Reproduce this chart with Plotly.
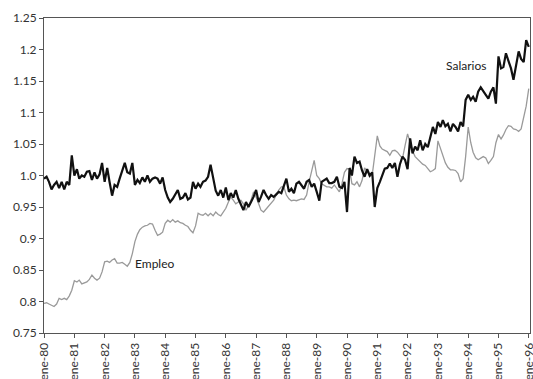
import pandas as pd
import plotly.graph_objects as go

fechas = pd.date_range("1980-01-01", periods=193, freq="MS")

salarios = [
    0.995, 0.998, 0.99, 0.978, 0.985, 0.99, 0.98, 0.99, 0.978, 0.99, 0.985, 1.032,
    1.0, 1.01, 0.995, 1.0, 0.998, 1.006, 1.007, 0.993, 1.005, 0.995, 1.002, 1.02,
    0.99, 1.012, 0.99, 0.968, 0.985, 0.982, 0.995, 1.008, 1.02, 1.005, 1.003, 1.02,
    0.985, 0.993, 0.988, 0.997, 0.99, 1.0, 0.99, 0.995, 0.997, 0.995, 0.987, 0.997,
    0.977, 0.965, 0.958, 0.963, 0.969, 0.977, 0.963, 0.965, 0.972, 0.962, 0.965, 0.99,
    0.979, 0.987, 0.982, 0.99, 0.992, 0.998, 1.017, 0.996, 0.976, 0.968, 0.977, 0.965,
    0.981, 0.961, 0.972, 0.965, 0.977, 0.963, 0.955, 0.945, 0.958, 0.95, 0.958, 0.966,
    0.977, 0.958, 0.966, 0.977, 0.969, 0.963, 0.969, 0.966, 0.97, 0.974, 0.972, 0.982,
    0.995, 0.974, 0.979, 0.972, 0.987, 0.99, 0.985, 0.979, 0.99, 0.993, 0.982, 0.987,
    0.974, 0.96, 0.99, 0.992, 0.995, 0.988, 0.988, 0.99, 0.998, 0.982, 0.98, 0.99,
    0.942, 1.012, 1.0, 1.03, 1.02, 1.022, 1.008, 0.998, 1.01, 1.0, 1.005, 0.95,
    0.98, 0.99, 1.0, 1.011, 1.012, 1.019, 1.012, 1.02, 0.998, 1.018, 1.03, 1.025,
    1.01, 1.059, 1.035, 1.046, 1.04, 1.056, 1.04, 1.05, 1.045, 1.062, 1.077, 1.066,
    1.085, 1.077, 1.088, 1.078, 1.082, 1.07, 1.082, 1.077, 1.07, 1.085, 1.078, 1.12,
    1.128, 1.12, 1.125, 1.117, 1.133, 1.14, 1.133, 1.128, 1.122, 1.133, 1.14, 1.114,
    1.189, 1.17, 1.172, 1.194, 1.182, 1.17, 1.152, 1.175, 1.197, 1.185, 1.18, 1.215,
    1.204,
]

empleo = [
    0.797, 0.798, 0.796, 0.794, 0.792, 0.796, 0.805, 0.803, 0.805, 0.803, 0.809, 0.818,
    0.833, 0.831, 0.834, 0.828, 0.829, 0.831, 0.835, 0.842, 0.837, 0.834, 0.837, 0.847,
    0.863, 0.864, 0.862, 0.866, 0.868, 0.861, 0.861, 0.862, 0.859, 0.856, 0.862, 0.876,
    0.895, 0.907, 0.914, 0.918, 0.92, 0.921, 0.924, 0.923, 0.913, 0.905, 0.907, 0.91,
    0.924, 0.929, 0.926, 0.93, 0.926, 0.928, 0.925, 0.924, 0.921, 0.919, 0.913, 0.909,
    0.92, 0.94, 0.938, 0.937, 0.94, 0.936, 0.94, 0.936, 0.942, 0.938, 0.936, 0.942,
    0.948, 0.958, 0.966, 0.961, 0.955, 0.958, 0.961, 0.955, 0.945, 0.952, 0.961, 0.974,
    0.966, 0.955, 0.945, 0.942, 0.947, 0.952, 0.956, 0.961, 0.969, 0.977, 0.982, 0.982,
    0.969, 0.963, 0.96, 0.961, 0.96, 0.961, 0.963, 0.962, 0.969, 0.99, 1.008, 1.024,
    1.0, 0.995, 0.987, 0.985, 0.982, 0.982, 0.98, 0.985, 0.98, 0.974, 0.987, 1.005,
    1.011, 1.01, 0.987, 0.985, 0.99, 0.982, 0.992, 1.012, 1.007, 0.998, 1.001, 1.033,
    1.063, 1.047, 1.042, 1.04, 1.038, 1.032, 1.039, 1.04, 1.037, 1.032, 1.027, 1.047,
    1.066, 1.052, 1.039, 1.03, 1.026, 1.021, 1.018, 1.016, 1.01, 1.006, 1.008, 1.011,
    1.055, 1.042, 1.032, 1.02, 1.013, 1.009, 1.009, 1.008, 1.003, 0.99, 0.995, 1.03,
    1.077, 1.052, 1.037, 1.028, 1.025, 1.028, 1.03, 1.028, 1.019, 1.024, 1.03, 1.052,
    1.065, 1.058, 1.064, 1.073, 1.079, 1.078, 1.074, 1.073, 1.07, 1.074, 1.09, 1.11,
    1.138,
]

etiquetas_x = ["ene-80", "ene-81", "ene-82", "ene-83", "ene-84", "ene-85", "ene-86", "ene-87",
               "ene-88", "ene-89", "ene-90", "ene-91", "ene-92", "ene-93", "ene-94", "ene-95", "ene-96"]
valores_y = [0.75, 0.8, 0.85, 0.9, 0.95, 1.0, 1.05, 1.1, 1.15, 1.2, 1.25]
etiquetas_y = ["0.75", "0.8", "0.85", "0.9", "0.95", "1.0", "1.05", "1.1", "1.15", "1.2", "1.25"]

FONT = "Lato"
AXC = "#333333"

fig = go.Figure()
fig.add_trace(go.Scatter(x=fechas, y=empleo, mode="lines", name="Empleo",
                         line=dict(color="#9a9a9a", width=1.3)))
fig.add_trace(go.Scatter(x=fechas, y=salarios, mode="lines", name="Salarios",
                         line=dict(color="#111111", width=2.2)))

fig.add_annotation(x=fechas[167], y=1.175, text="Salarios", showarrow=False,
                   font=dict(family=FONT, size=12, color="#222222"))
fig.add_annotation(x=fechas[44], y=0.861, text="Empleo", showarrow=False,
                   font=dict(family=FONT, size=12, color="#222222"))

fig.update_layout(
    width=533, height=379,
    margin=dict(l=44, r=3, t=18, b=46, autoexpand=False),
    paper_bgcolor="white", plot_bgcolor="white",
    showlegend=False,
    font=dict(family=FONT, size=12, color=AXC),
)
fig.update_xaxes(
    range=[pd.Timestamp("1980-01-01"), pd.Timestamp("1996-01-16")],
    tickvals=list(fechas[::12]), ticktext=etiquetas_x, tickangle=-90,
    automargin=False, ticklabeloverflow="allow",
    showgrid=False, zeroline=False,
    showline=True, linecolor="#555555", linewidth=1, mirror=True,
    ticks="outside", ticklen=4, tickcolor="#555555",
    tickfont=dict(family=FONT, size=12, color=AXC),
)
fig.update_yaxes(
    range=[0.75, 1.25], tickvals=valores_y, ticktext=etiquetas_y,
    automargin=False, ticklabeloverflow="allow",
    showgrid=False, zeroline=False,
    showline=True, linecolor="#555555", linewidth=1, mirror=True,
    ticks="outside", ticklen=4, tickcolor="#555555",
    tickfont=dict(family=FONT, size=12, color=AXC),
)

fig.write_html(
    "out.html",
    config={"displayModeBar": False},
    post_script="document.body.style.margin='0';document.body.style.overflow='hidden';",
)
